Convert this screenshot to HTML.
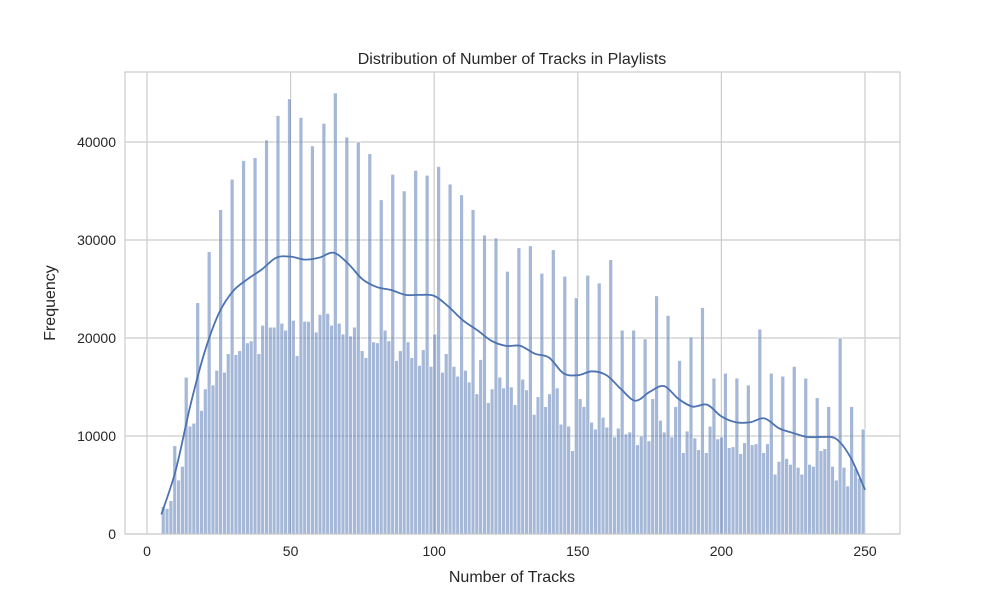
<!DOCTYPE html>
<html><head><meta charset="utf-8"><style>
body{margin:0;background:#fff}
svg text{font-family:"Liberation Sans","DejaVu Sans",sans-serif;fill:#262626}
</style></head><body>
<svg width="1000" height="600" viewBox="0 0 1000 600">
<rect x="0" y="0" width="1000" height="600" fill="#fff"/>
<g id="grid"></g>
<g id="bars"></g>
<path id="kde" fill="none" stroke="#4c72b0" stroke-width="1.8"/>
<rect x="125" y="72" width="775" height="462" fill="none" stroke="#cccccc" stroke-width="1.2"/>
<g id="ticks"></g>
<text x="512" y="64" text-anchor="middle" font-size="16">Distribution of Number of Tracks in Playlists</text>
<text x="512" y="582" text-anchor="middle" font-size="16">Number of Tracks</text>
<text transform="translate(55,303) rotate(-90)" text-anchor="middle" font-size="16">Frequency</text>
</svg>
<script>
const binStart = 5, binEnd = 250;
const counts = [2.8,2.6,3.4,9.0,5.5,6.9,16.0,11.0,11.3,23.6,12.6,14.8,28.8,15.2,16.7,33.1,16.5,18.4,36.2,18.3,18.7,38.1,19.5,19.7,38.4,18.4,21.3,40.2,21.1,21.1,42.7,21.5,20.8,44.4,21.8,18.2,42.5,21.7,21.7,39.6,20.6,22.4,41.9,22.5,
21.3,45.0,21.5,20.4,40.5,20.2,21.1,40.0,18.7,18.0,38.8,19.6,19.5,34.1,20.8,19.7,36.7,17.7,18.7,35.0,19.6,18.0,37.1,17.2,18.8,36.6,17.1,20.4,37.5,16.5,18.4,35.7,17.1,16.1,34.6,16.7,15.5,33.1,14.3,17.8,30.5,13.4,14.8,30.2,
16.0,14.9,26.8,15.0,13.2,29.2,15.8,14.7,29.4,12.2,14.0,26.6,13.0,14.3,29.0,14.9,11.2,26.3,11.0,8.5,24.1,13.8,13.0,26.4,11.4,10.7,25.6,11.9,10.9,28.0,9.9,10.8,20.8,10.2,10.4,20.8,9.1,10.0,19.9,9.5,13.8,24.3,11.6,10.4,22.3,9.9,13.0,17.7,
8.3,10.5,20.1,9.8,8.6,23.1,8.3,11.0,15.9,9.7,9.9,16.4,8.8,8.9,15.9,8.2,9.3,15.2,9.1,9.2,20.9,8.3,9.2,16.4,6.1,7.4,16.1,7.7,7.1,17.1,6.8,6.1,15.9,7.1,6.9,13.9,8.5,8.7,13.0,6.9,5.5,20.0,6.8,4.9,13.0,6.7,5.7,10.7];
const kdeX = [5,10,15,20,25,30,35,40,45,50,55,60,65,70,75,80,85,90,95,100,105,110,115,120,125,130,135,140,145,150,155,160,165,170,175,180,185,190,195,200,205,210,215,220,225,230,235,240,245,250];
const kdeY = [2.0,6.5,13,18.5,22.5,24.8,26,27,28.2,28.3,28,28.2,28.7,27.6,26,25.2,24.9,24.4,24.4,24.3,23.2,21.8,20.8,19.7,19.2,19.2,18.4,18.0,16.4,16.2,16.6,16.2,14.8,13.6,14.5,15.1,13.8,13.0,13.2,12.0,11.4,11.4,11.8,10.8,10.3,9.9,9.9,9.7,7.8,4.5];
const xTicks = [0,50,100,150,200,250];
const yTicks = [0,10000,20000,30000,40000];

const NS = "http://www.w3.org/2000/svg";
const X = v => 147 + v * 2.872;
const Y = v => 534 - v * 0.0098;
function mk(tag, attrs, parent){const e=document.createElementNS(NS,tag);for(const k in attrs)e.setAttribute(k,attrs[k]);parent.appendChild(e);return e;}
const grid=document.getElementById('grid'), ticks=document.getElementById('ticks'), bars=document.getElementById('bars');
xTicks.forEach(t=>{
  const l=mk('line',{x1:X(t),x2:X(t),y1:72,y2:534,stroke:'#cccccc','stroke-width':1.2},grid);
  
  
  const tx=mk('text',{x:X(t),y:556,'text-anchor':'middle','font-size':14},ticks);
  tx.textContent=t;
  
  
});
yTicks.forEach(t=>{
  const l=mk('line',{x1:125,x2:900,y1:Y(t),y2:Y(t),stroke:'#cccccc','stroke-width':1.2},grid);
  
  
  const tx=mk('text',{x:116,y:Y(t)+5,'text-anchor':'end','font-size':14},ticks);
  tx.textContent=t;
  
  
});
const bw=(binEnd-binStart)/counts.length;
counts.forEach((c,i)=>{
  const x0=X(binStart+i*bw), x1=X(binStart+(i+1)*bw);
  const r=mk('rect',{x:x0,y:Y(c*1000),width:x1-x0,height:Y(0)-Y(c*1000),fill:'rgba(76,114,176,0.5)',stroke:'#ffffff','stroke-width':0.6},bars);
  
  
});
const pts=kdeX.map((x,i)=>[X(x),Y(kdeY[i]*1000)]);
let d='M'+pts[0][0]+','+pts[0][1];
for(let i=0;i<pts.length-1;i++){
  const p0=pts[Math.max(0,i-1)],p1=pts[i],p2=pts[i+1],p3=pts[Math.min(pts.length-1,i+2)];
  const c1x=p1[0]+(p2[0]-p0[0])/6,c1y=p1[1]+(p2[1]-p0[1])/6;
  const c2x=p2[0]-(p3[0]-p1[0])/6,c2y=p2[1]-(p3[1]-p1[1])/6;
  d+=' C'+c1x+','+c1y+' '+c2x+','+c2y+' '+p2[0]+','+p2[1];
}
document.getElementById('kde').setAttribute('d',d);
</script>
</body></html>
